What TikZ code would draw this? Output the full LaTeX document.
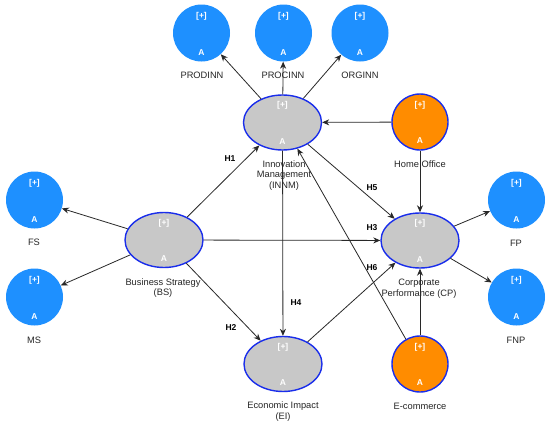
\documentclass[tikz,border=0pt]{standalone}
\usepackage{fontspec}
\setmainfont{Liberation Sans}
\usetikzlibrary{arrows.meta,shapes.geometric}
\definecolor{indblue}{RGB}{30,144,255}
\definecolor{modorange}{RGB}{255,140,0}
\definecolor{lvgray}{RGB}{200,200,200}
\definecolor{rimblue}{RGB}{25,45,235}
\definecolor{linegray}{RGB}{40,40,40}
\newcommand\pmarks[2]{%
  \node[intext] (#1p) at ([yshift=17pt]#1.center) {[+]};
  \node[intext] (#1a) at ([yshift=-#2]#1.center) {A};}
\begin{document}
\begin{tikzpicture}[x=1pt,y=-1pt,
  ind/.style={circle,fill=indblue,minimum size=57pt,inner sep=0pt},
  moder/.style={circle,fill=modorange,draw=rimblue,line width=1.4pt,minimum size=56pt,inner sep=0pt},
  lv/.style={ellipse,fill=lvgray,draw=rimblue,line width=1.4pt,minimum width=78pt,minimum height=55pt,inner sep=0pt},
  intext/.style={text=white,font=\fontsize{8.5}{9}\selectfont\bfseries,inner sep=0pt},
  lab/.style={font=\fontsize{9.3}{10.8}\selectfont,align=center,text=black!85,inner sep=0pt},
  hyp/.style={font=\fontsize{8.5}{10}\selectfont\bfseries,inner sep=0pt},
  arr/.style={draw=linegray,line width=0.8pt,-{Stealth[length=7pt,width=6pt]}}]
\useasboundingbox[fill=white] (0,0) rectangle (550,426);

% indicators
\node[ind] (PRODINN) at (201.5,33) {};
\node[ind] (PROCINN) at (283.5,33) {};
\node[ind] (ORGINN) at (360,33) {};
\node[ind] (FS) at (34.5,200) {};
\node[ind] (MS) at (34.5,297) {};
\node[ind] (FP) at (516.5,200) {};
\node[ind] (FNP) at (516.5,297) {};
% latent variables
\node[lv] (INNM) at (282.5,122.5) {};
\node[lv] (BS) at (164,240) {};
\node[lv] (CP) at (420,240.5) {};
\node[lv] (EI) at (283,364) {};
% moderators
\node[moder] (HO) at (420,122) {};
\node[moder] (EC) at (420,364) {};

\pmarks{PRODINN}{20pt}\pmarks{PROCINN}{20pt}\pmarks{ORGINN}{20pt}
\pmarks{FS}{20pt}\pmarks{MS}{20pt}\pmarks{FP}{20pt}\pmarks{FNP}{20pt}
\pmarks{INNM}{19pt}\pmarks{BS}{19pt}\pmarks{CP}{19pt}\pmarks{EI}{19pt}
\pmarks{HO}{19pt}\pmarks{EC}{19pt}

% labels
\node[lab] (lPRODINN) at (202,75) {PRODINN};
\node[lab] (lPROCINN) at (283,75) {PROCINN};
\node[lab] (lORGINN) at (360,75) {ORGINN};
\node[lab] (lFS) at (34,242) {FS};
\node[lab] (lMS) at (34,340) {MS};
\node[lab] (lFP) at (516,243) {FP};
\node[lab] (lFNP) at (516,340) {FNP};
\node[lab] (lINNM) at (284,175.5) {Innovation\\Management\\(INNM)};
\node[lab] (lHO) at (420,164) {Home Office};
\node[lab] (lBS) at (163,288) {Business Strategy\\(BS)};
\node[lab] (lCP) at (419,288.5) {Corporate\\Performance (CP)};
\node[lab] (lEI) at (283,411.5) {Economic Impact\\(EI)};
\node[lab] (lEC) at (420,406) {E-commerce};

% connectors
\draw[arr] (INNM) -- (PRODINN);
\draw[arr] (INNM) -- (PROCINN);
\draw[arr] (INNM) -- (ORGINN);
\draw[arr] (HO) -- (INNM);
\draw[arr] (HO) -- (CP);
\draw[arr] (BS) -- (FS);
\draw[arr] (BS) -- (MS);
\draw[arr] (BS) -- (INNM);
\draw[arr] (BS) -- (CP);
\draw[arr] (BS) -- (EI);
\draw[arr] (INNM) -- (CP);
\draw[arr] (INNM) -- (EI);
\draw[arr] (EI) -- (CP);
\draw[arr] (EC) -- (INNM);
\draw[arr] (EC) -- (CP);
\draw[arr] (CP) -- (FP);
\draw[arr] (CP) -- (FNP);

% hypothesis labels
\node[hyp] (h1) at (230,159) {H1};
\node[hyp] (h5) at (372,188) {H5};
\node[hyp] (h3) at (372,228) {H3};
\node[hyp] (h6) at (372,268) {H6};
\node[hyp] (h4) at (296,303) {H4};
\node[hyp] (h2) at (231,328) {H2};
\end{tikzpicture}
\end{document}
